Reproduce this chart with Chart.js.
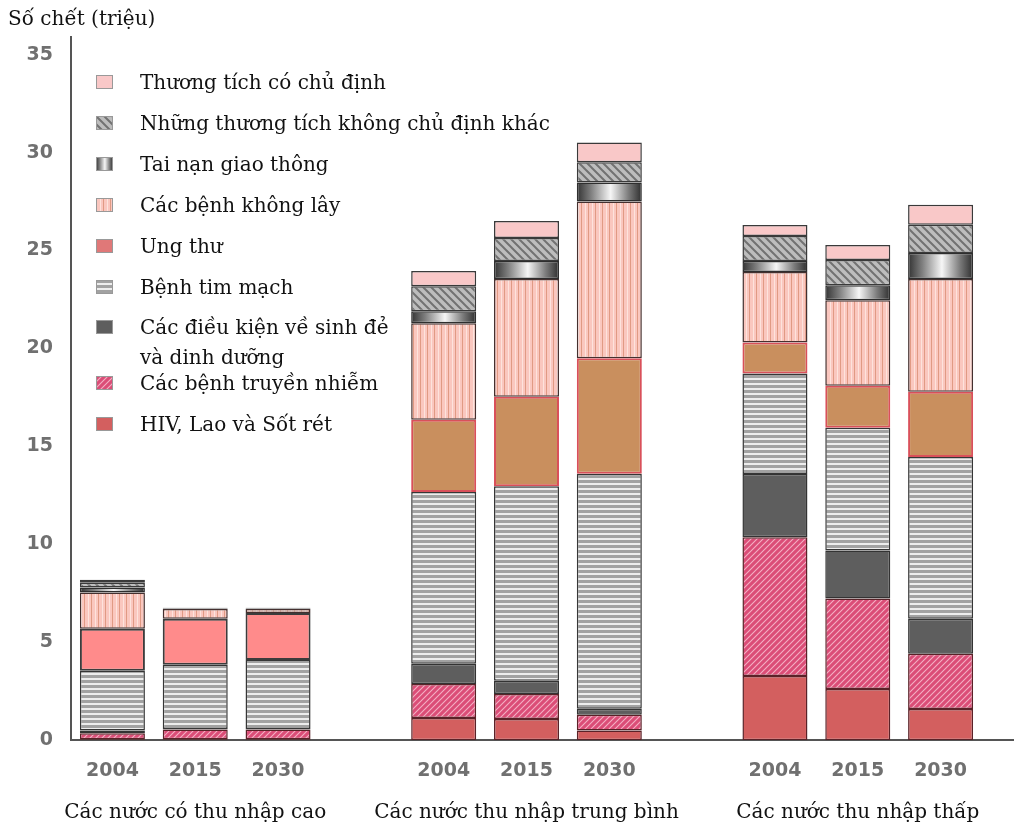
<!DOCTYPE html>
<html>
<head>
<meta charset="utf-8">
<script src="https://cdn.jsdelivr.net/npm/chart.js@4"></script>
<style>
  body { margin: 0; background: #fff; }
  #wrap { position: relative; width: 1014px; height: 829px; }
  #legend { position: absolute; left: 96px; top: 61px; font-family: 'DejaVu Serif', serif; font-size: 20px; color: #111; }
  .row { display: flex; align-items: center; height: 41px; white-space: pre-line; }
  .row.tall { align-items: flex-start; height: 55px; line-height: 30px; padding-top: 5px; box-sizing: border-box; }
  .row.tall canvas { margin-top: 8px; }
  .row canvas { width: 17px; height: 14px; margin-right: 27px; flex: none; }
</style>
</head>
<body>
<div id="wrap">
  <canvas id="myChart" width="1014" height="829"></canvas>
  <div id="legend"></div>
</div>
<script>
const categories = ['2004', '2015', '2030', '', '2004', '2015', '2030', '', '2004', '2015', '2030'];
const groupLabels = ['', 'Các nước có thu nhập cao', '', '', '', 'Các nước thu nhập trung bình', '', '', '', 'Các nước thu nhập thấp', ''];
const yTicks = [0, 5, 10, 15, 20, 25, 30, 35];

// deaths in millions, bottom segment first
const hiv = [0.05, 0.05, 0.05, null, 1.13, 1.08, 0.5, null, 3.28, 2.62, 1.59];
const communicable = [0.3, 0.5, 0.5, null, 1.74, 1.28, 0.8, null, 7.08, 4.61, 2.82];
const perinatal = [0.15, 0.02, 0.02, null, 1.03, 0.67, 0.3, null, 3.23, 2.46, 1.79];
const cardio = [3.04, 3.28, 3.53, null, 8.77, 9.94, 12.0, null, 5.13, 6.26, 8.26];
const cancer = [2.15, 2.35, 2.4, null, 3.69, 4.57, 5.9, null, 1.58, 2.15, 3.33];
const otherNcd = [1.85, 0.5, 0.2, null, 4.92, 6.0, 8.0, null, 3.6, 4.36, 5.75];
const roadTraffic = [0.25, 0.02, 0.02, null, 0.62, 0.92, 0.97, null, 0.56, 0.77, 1.33];
const otherInjuries = [0.25, 0.02, 0.02, null, 1.28, 1.18, 1.03, null, 1.28, 1.28, 1.44];
const intentional = [0.15, 0.02, 0.02, null, 0.77, 0.86, 1.02, null, 0.56, 0.77, 1.02];

const causeNames = [
  'HIV, Lao và Sốt rét',
  'Các bệnh truyền nhiễm',
  'Các điều kiện về sinh đẻ\nvà dinh dưỡng',
  'Bệnh tim mạch',
  'Ung thư',
  'Các bệnh không lây',
  'Tai nạn giao thông',
  'Những thương tích không chủ định khác',
  'Thương tích có chủ định',
];

const canvas = document.querySelector('#myChart');
const ctx = canvas.getContext('2d');

function makePattern(w, h, draw) {
  const c = document.createElement('canvas');
  c.width = w;
  c.height = h;
  draw(c.getContext('2d'), w, h);
  return ctx.createPattern(c, 'repeat');
}

const hatchPink = makePattern(6, 6, (g, w, h) => {
  g.fillStyle = '#db4d77';
  g.fillRect(0, 0, w, h);
  g.strokeStyle = '#f4b0c4';
  g.lineWidth = 1.1;
  g.beginPath();
  g.moveTo(-1, h + 1); g.lineTo(w + 1, -1);
  g.moveTo(-1, 1); g.lineTo(1, -1);
  g.moveTo(w - 1, h + 1); g.lineTo(w + 1, h - 1);
  g.stroke();
});
const stripesGrey = makePattern(4, 5, (g, w, h) => {
  g.fillStyle = '#a2a2a2';
  g.fillRect(0, 0, w, h);
  g.fillStyle = '#ededed';
  g.fillRect(0, 3, w, 2);
});
const stripesPink = makePattern(7, 4, (g, w, h) => {
  g.fillStyle = '#fac7bf';
  g.fillRect(0, 0, w, h);
  g.fillStyle = '#e09a84';
  g.fillRect(0, 0, 1, h);
  g.fillStyle = '#fde3dd';
  g.fillRect(4, 0, 1, h);
});
const hatchGrey = makePattern(8, 8, (g, w, h) => {
  g.fillStyle = '#bdbdbd';
  g.fillRect(0, 0, w, h);
  g.strokeStyle = '#727272';
  g.lineWidth = 2;
  g.beginPath();
  g.moveTo(-1, -1); g.lineTo(w + 1, h + 1);
  g.moveTo(w - 1, -1); g.lineTo(w + 1, 1);
  g.moveTo(-1, h - 1); g.lineTo(1, h + 1);
  g.stroke();
});

function metal(g, x0, x1) {
  const grad = g.createLinearGradient(x0, 0, x1, 0);
  grad.addColorStop(0, '#333');
  grad.addColorStop(0.22, '#808080');
  grad.addColorStop(0.52, '#f6f6f6');
  grad.addColorStop(0.8, '#7a7a7a');
  grad.addColorStop(1, '#2e2e2e');
  return grad;
}

function roadFill(c) {
  const el = c.element;
  if (!el || !isFinite(el.x) || !el.width) return '#888';
  return metal(c.chart.ctx, el.x - el.width / 2, el.x + el.width / 2);
}

function cancerFill(c) {
  return c.dataIndex < 3 ? '#ff8b8b' : '#c98f5e';
}
function cancerBorder(c) {
  return c.dataIndex < 3 ? '#3c3c3c' : '#d9505a';
}

const series = [hiv, communicable, perinatal, cardio, cancer, otherNcd, roadTraffic, otherInjuries, intentional];
const fills = ['#d35f5f', hatchPink, '#5e5e5e', stripesGrey, cancerFill, stripesPink, roadFill, hatchGrey, '#f9c8c8'];
const swatchFills = ['#d35f5f', hatchPink, '#5e5e5e', stripesGrey, '#e07878', stripesPink, null, hatchGrey, '#f9c8c8'];
const borders = ['#5a2228', '#5a2228', '#333', '#363636', cancerBorder, '#44302f', '#2e2e2e', '#3a3a3a', '#3a3a3a'];

const datasets = series.map((data, i) => ({
  label: causeNames[i],
  data: data,
  backgroundColor: fills[i],
  borderColor: borders[i],
  borderWidth: i === 4 ? 2 : 1.5,
  borderSkipped: false,
  barPercentage: 0.785,
  categoryPercentage: 1,
}));

const tickFont = { family: 'DejaVu Sans', size: 19, weight: 'bold' };
const serifFont = { family: 'DejaVu Serif', size: 20, weight: 'normal' };

// the baseline in the original runs on to the right edge of the picture
const extendBaseline = {
  id: 'extendBaseline',
  afterDraw(chart) {
    const { ctx, chartArea } = chart;
    const y = Math.round(chartArea.bottom);
    ctx.save();
    ctx.strokeStyle = '#555';
    ctx.lineWidth = 2;
    ctx.beginPath();
    ctx.moveTo(chartArea.right - 1, y);
    ctx.lineTo(chart.width, y);
    ctx.stroke();
    ctx.restore();
  },
};

const myChart = new Chart(canvas, {
  type: 'bar',
  data: { labels: categories, datasets: datasets },
  options: {
    responsive: false,
    animation: false,
    layout: { padding: { left: 8, right: 32, top: 0, bottom: 4 } },
    plugins: {
      legend: { display: false },
      tooltip: { enabled: false },
      title: {
        display: true,
        text: 'Số chết (triệu)',
        align: 'start',
        color: '#111',
        font: serifFont,
        padding: { top: 8, bottom: 5 },
      },
    },
    scales: {
      x: {
        stacked: true,
        grid: { display: false, drawTicks: false },
        border: { display: true, color: '#555', width: 2 },
        ticks: { padding: 19, color: '#707070', font: tickFont, autoSkip: false, maxRotation: 0 },
      },
      x2: {
        type: 'category',
        labels: groupLabels,
        position: 'bottom',
        grid: { display: false, drawTicks: false },
        border: { display: false },
        ticks: { padding: 0, color: '#111', font: serifFont, autoSkip: false, maxRotation: 0 },
      },
      y: {
        stacked: true,
        min: 0,
        max: 35.9,
        grid: { display: false, drawTicks: false },
        border: { display: true, color: '#555', width: 2 },
        ticks: {
          stepSize: 5,
          includeBounds: false,
          padding: 18,
          color: '#707070',
          font: tickFont,
          callback: (v) => (yTicks.includes(v) ? v : null),
        },
        afterFit: (scale) => { scale.width = 63; },
      },
    },
  },
  plugins: [extendBaseline],
});
// second pass so the metallic gradient knows where each bar sits
myChart.update();

// legend, top item first
const legend = document.querySelector('#legend');
for (let i = series.length - 1; i >= 0; i--) {
  const row = document.createElement('div');
  row.className = causeNames[i].includes('\n') ? 'row tall' : 'row';
  const sw = document.createElement('canvas');
  sw.width = 17;
  sw.height = 14;
  const g = sw.getContext('2d');
  g.fillStyle = swatchFills[i] || metal(g, 0, 17);
  g.fillRect(0, 0, 17, 14);
  g.strokeStyle = '#999';
  g.strokeRect(0.5, 0.5, 16, 13);
  const span = document.createElement('span');
  span.innerText = causeNames[i];
  row.append(sw, span);
  legend.appendChild(row);
}
</script>
</body>
</html>
